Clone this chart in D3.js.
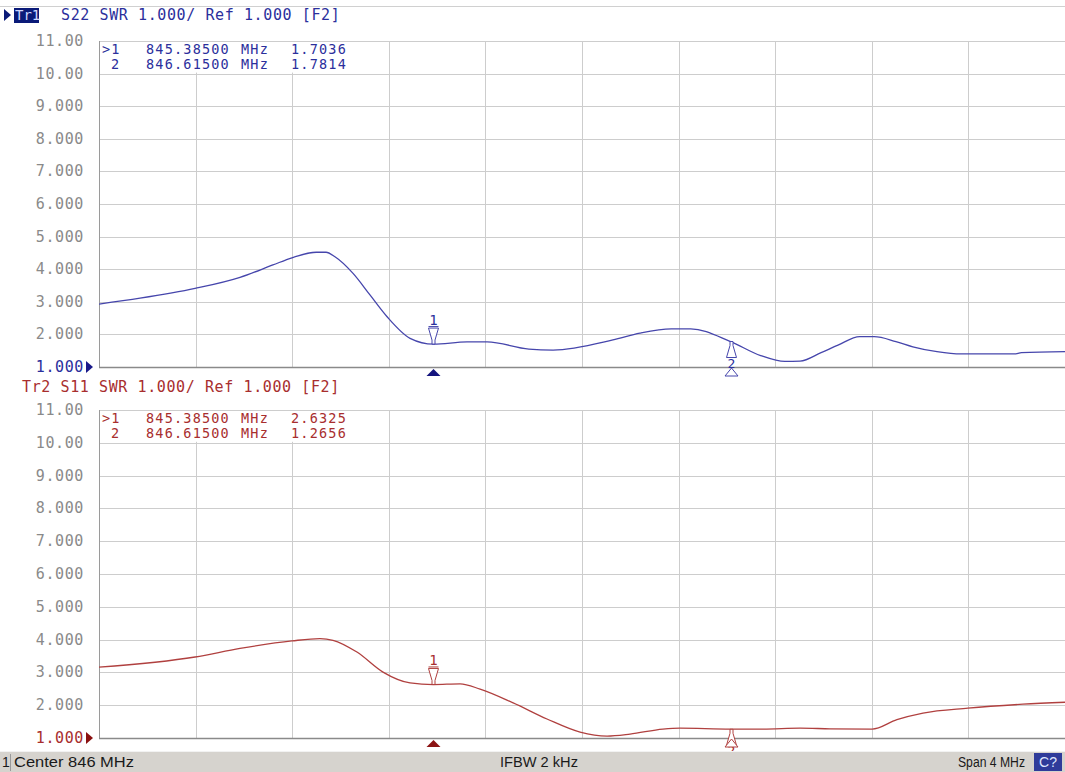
<!DOCTYPE html>
<html>
<head>
<meta charset="utf-8">
<script src="https://cdn.jsdelivr.net/npm/d3@7/dist/d3.min.js"></script>
<style>
  body { margin: 0; background: #fff; }
  svg { display: block; }
  .mono { font-family: "DejaVu Sans Mono", monospace; }
</style>
</head>
<body>
<div id="chart"></div>
<script>
// sweep, MHz
const startFreq = 844;
const stopFreq = 848;
const xTicks = [844, 844.4, 844.8, 845.2, 845.6, 846, 846.4, 846.8, 847.2, 847.6, 848];
const yTicks = [1, 2, 3, 4, 5, 6, 7, 8, 9, 10, 11];
const yTickLabels = ["1.000", "2.000", "3.000", "4.000", "5.000", "6.000", "7.000", "8.000", "9.000", "10.00", "11.00"];

// Tr1 S22 SWR
const s22Freq = [844.000, 844.170, 844.398, 844.584, 844.720, 844.799, 844.900, 844.940, 844.977, 845.052,
  845.122, 845.193, 845.288, 845.385, 845.524, 845.607, 845.780, 845.880, 846.128, 846.240,
  846.370, 846.450, 846.615, 846.740, 846.840, 846.903, 846.990, 847.060, 847.150, 847.210,
  847.300, 847.370, 847.470, 847.570, 847.790, 847.820, 848.000];
const s22Swr = [2.93, 3.11, 3.41, 3.75, 4.13, 4.35, 4.52, 4.52, 4.38, 3.87,
  3.21, 2.54, 1.88, 1.70, 1.77, 1.77, 1.55, 1.52, 1.83, 2.04,
  2.17, 2.17, 1.78, 1.35, 1.17, 1.18, 1.44, 1.67, 1.93, 1.93,
  1.78, 1.62, 1.47, 1.40, 1.40, 1.44, 1.47];

// Tr2 S11 SWR
const s11Freq = [844.000, 844.398, 844.584, 844.799, 844.915, 844.969, 845.068, 845.176, 845.288, 845.385,
  845.495, 845.578, 845.715, 845.855, 845.992, 846.104, 846.199, 846.335, 846.406, 846.615,
  846.749, 846.903, 847.027, 847.201, 847.304, 847.412, 847.598, 847.826, 848.000];
const s11Swr = [3.16, 3.47, 3.73, 3.96, 4.03, 3.98, 3.62, 3.01, 2.68, 2.63,
  2.65, 2.49, 2.07, 1.58, 1.18, 1.06, 1.12, 1.27, 1.30, 1.27,
  1.27, 1.30, 1.28, 1.27, 1.56, 1.76, 1.91, 2.03, 2.09];

const markerFreqs = [845.385, 846.615];
const markerIds = [">1", "2"];
const s22Readout = ["1.7036", "1.7814"];
const s11Readout = ["2.6325", "1.2656"];

const W = 1065, H = 772;
const left = 99, right = 1065;

const svg = d3.select("#chart").append("svg")
  .attr("width", W)
  .attr("height", H);

svg.append("rect").attr("width", W).attr("height", H).attr("fill", "#fff");
svg.append("line")
  .attr("x1", 0).attr("x2", W).attr("y1", 6.5).attr("y2", 6.5)
  .attr("stroke", "#d0d0d0");

const x = d3.scaleLinear().domain([startFreq, stopFreq]).range([left, right]);

const panels = [
  {name: "Tr1", param: "S22", top: 41, bottom: 367, head: 20, line: "#4646ac", text: "#2b2f9c",
    freq: s22Freq, swr: s22Swr, readout: s22Readout, active: true},
  {name: "Tr2", param: "S11", top: 410, bottom: 738, head: 392, line: "#b0403f", text: "#a82e2e",
    freq: s11Freq, swr: s11Swr, readout: s11Readout, active: false}
];

panels.forEach(p => {
  const y = d3.scaleLinear().domain([1, 11]).range([p.bottom, p.top]);
  const g = svg.append("g");

  // header
  if (p.active) {
    g.append("path").attr("d", `M4,9 L11,15 L4,21 Z`).attr("fill", "#0a1a78");
    g.append("rect").attr("x", 14).attr("y", 8).attr("width", 25).attr("height", 15).attr("fill", "#0a1a78");
    g.append("text").attr("class", "mono").attr("x", 15).attr("y", p.head)
      .attr("font-size", 14).attr("fill", "#cfd6ff").text("Tr1");
    g.append("text").attr("class", "mono").attr("x", 61).attr("y", p.head)
      .attr("font-size", 15).attr("letter-spacing", 0.6).attr("fill", p.text)
      .text(`${p.param} SWR 1.000/ Ref 1.000 [F2]`);
  } else {
    g.append("text").attr("class", "mono").attr("x", 22).attr("y", p.head)
      .attr("font-size", 15).attr("letter-spacing", 0.6).attr("fill", p.text)
      .text(`${p.name} ${p.param} SWR 1.000/ Ref 1.000 [F2]`);
  }

  // grid
  g.selectAll(".hg").data(yTicks.slice(1)).enter().append("line")
    .attr("x1", left).attr("x2", right)
    .attr("y1", d => Math.round(y(d)) + 0.5).attr("y2", d => Math.round(y(d)) + 0.5)
    .attr("stroke", "#cdcdcd");
  g.selectAll(".vg").data(xTicks.slice(1, -1)).enter().append("line")
    .attr("x1", d => Math.round(x(d)) + 0.5).attr("x2", d => Math.round(x(d)) + 0.5)
    .attr("y1", p.top).attr("y2", p.bottom)
    .attr("stroke", "#cdcdcd");

  // readout area covers grid
  g.append("rect").attr("x", left + 1).attr("y", p.top + 1)
    .attr("width", 286).attr("height", y(10) - p.top - 2).attr("fill", "#fff");

  g.append("line").attr("x1", left + 0.5).attr("x2", left + 0.5)
    .attr("y1", p.top).attr("y2", p.bottom).attr("stroke", "#9a9a9a");
  g.append("line").attr("x1", left).attr("x2", right)
    .attr("y1", p.bottom + 0.5).attr("y2", p.bottom + 0.5)
    .attr("stroke", "#8a8a8a").attr("stroke-width", 1.5);

  // y labels
  g.selectAll(".yl").data(yTicks).enter().append("text")
    .attr("class", "mono")
    .attr("x", 84)
    .attr("y", d => y(d) + 5)
    .attr("text-anchor", "end")
    .attr("font-size", 15).attr("letter-spacing", 0.6)
    .attr("fill", d => d === 1 ? p.text : "#8a8a8a")
    .text((d, i) => yTickLabels[i]);
  g.append("path")
    .attr("d", `M86,${p.bottom - 6} L93,${p.bottom} L86,${p.bottom + 6} Z`)
    .attr("fill", p.active ? "#1a1a8a" : "#8a1010");

  // marker readouts
  p.readout.forEach((v, i) => {
    const yy = p.top + 13 + i * 15;
    const t = g.append("g").attr("class", "mono").attr("font-size", 13.5)
      .attr("letter-spacing", 1.2).attr("fill", p.text);
    t.append("text").attr("x", i === 0 ? 102 : 111).attr("y", yy).text(markerIds[i]);
    t.append("text").attr("x", 146).attr("y", yy).text(markerFreqs[i].toFixed(5));
    t.append("text").attr("x", 241).attr("y", yy).text("MHz");
    t.append("text").attr("x", 291).attr("y", yy).text(v);
  });

  // trace
  const pts = p.freq.map((f, i) => [f, p.swr[i]]);
  const line = d3.line()
    .x(d => x(d[0]))
    .y(d => y(d[1]))
    .curve(d3.curveMonotoneX);
  g.append("path").datum(pts)
    .attr("d", line)
    .attr("fill", "none")
    .attr("stroke", p.line)
    .attr("stroke-width", 1.3);

  // markers
  markerFreqs.forEach((f, i) => {
    const mx = Math.round(x(f)) + 0.5;
    const my = y(+p.readout[i]);
    const m = g.append("g").attr("stroke", p.line).attr("fill", "#fff").attr("stroke-width", 1);
    if (i === 0) {
      m.append("path")
        .attr("d", `M${mx - 5},${my - 16} H${mx + 5} L${mx + 1.5},${my - 4} V${my} H${mx - 1.5} V${my - 4} Z`);
      g.append("text").attr("class", "mono").attr("x", mx).attr("y", my - 19)
        .attr("text-anchor", "middle").attr("font-size", 14).attr("fill", p.text).text("1");
      g.append("line").attr("x1", mx - 5).attr("x2", mx + 5)
        .attr("y1", my - 17.5).attr("y2", my - 17.5).attr("stroke", p.line);
      g.append("path")
        .attr("d", `M${mx - 7},${p.bottom + 9} L${mx},${p.bottom + 2} L${mx + 7},${p.bottom + 9} Z`)
        .attr("fill", p.active ? "#14147e" : "#8c1414");
    } else {
      m.append("path")
        .attr("d", `M${mx - 5},${my + 16} H${mx + 5} L${mx + 1.5},${my + 4} V${my} H${mx - 1.5} V${my + 4} Z`);
      g.append("text").attr("class", "mono").attr("x", mx).attr("y", my + 26)
        .attr("text-anchor", "middle").attr("font-size", 13).attr("fill", p.text).text("2");
      g.append("path")
        .attr("d", `M${mx - 6.5},${p.bottom + 9} L${mx},${p.bottom + 1} L${mx + 6.5},${p.bottom + 9} Z`)
        .attr("fill", "#fff").attr("stroke", p.line);
    }
  });
});

// status bar
const bar = svg.append("g").attr("transform", "translate(0,751)");
bar.append("rect").attr("width", W).attr("height", 21).attr("fill", "#d6d3ce");
bar.append("line").attr("x1", 0).attr("x2", W).attr("y1", 0.5).attr("y2", 0.5).attr("stroke", "#f2f2f2");
bar.append("line").attr("x1", 10.5).attr("x2", 10.5).attr("y1", 3).attr("y2", 20).attr("stroke", "#9a9a9a");
const barText = bar.append("g")
  .attr("font-family", "'Liberation Sans', Arial, sans-serif")
  .attr("font-size", 14).attr("fill", "#1a1a1a");
barText.append("text").attr("x", 2).attr("y", 16).text("1");
barText.append("text").attr("x", 14).attr("y", 16)
  .attr("textLength", 120).attr("lengthAdjust", "spacingAndGlyphs").text("Center 846 MHz");
barText.append("text").attr("x", 500).attr("y", 16)
  .attr("textLength", 78).attr("lengthAdjust", "spacingAndGlyphs").text("IFBW 2 kHz");
barText.append("text").attr("x", 958).attr("y", 16)
  .attr("textLength", 67).attr("lengthAdjust", "spacingAndGlyphs").text("Span 4 MHz");
bar.append("rect").attr("x", 1034).attr("y", 2).attr("width", 28).attr("height", 18).attr("fill", "#2f3b9a");
bar.append("text").attr("x", 1048).attr("y", 16).attr("text-anchor", "middle")
  .attr("font-family", "'Liberation Sans', Arial, sans-serif")
  .attr("font-size", 14).attr("fill", "#dfe6ff").text("C?");
</script>
</body>
</html>
